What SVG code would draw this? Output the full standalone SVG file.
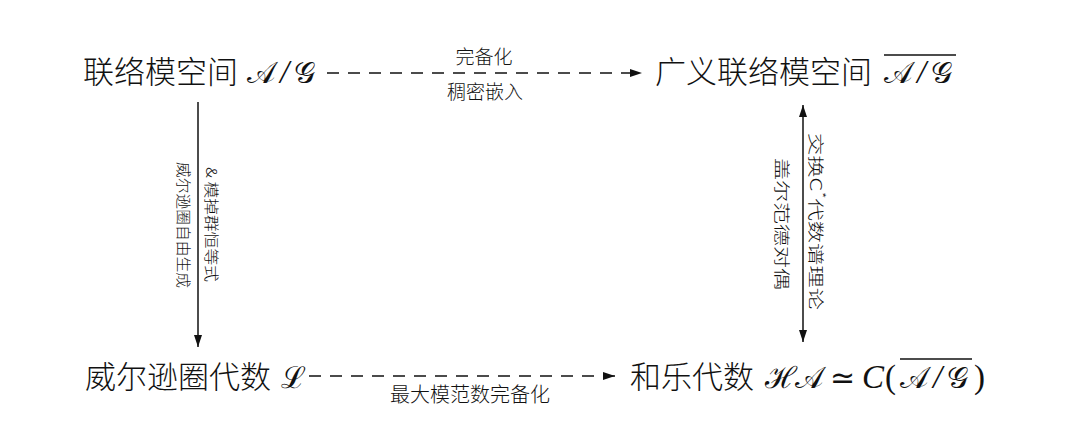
<svg xmlns="http://www.w3.org/2000/svg" width="1080" height="446" viewBox="0 0 1080 446">
<style>
.cjk{font-family:"Noto Sans CJK SC",sans-serif;fill:#111}
.big{font-size:31px;font-weight:300}
.lbl{font-size:19px;font-weight:300}
.rot{font-size:15px;font-weight:300}
.math{font-family:"DejaVu Serif","Liberation Serif",serif;font-size:30px;fill:#111}
.sl{font-family:"Liberation Serif",serif;font-style:italic;font-size:33px;fill:#111}
.up{font-family:"Liberation Serif",serif;font-size:33px;fill:#111}
.dash{stroke:#111;stroke-width:1.5;fill:none;stroke-dasharray:12 9}
.solid{stroke:#111;stroke-width:1.5;fill:none}
</style>
<defs>
<marker id="ah" viewBox="0 0 12 8" refX="12" refY="4" markerWidth="12" markerHeight="8" markerUnits="userSpaceOnUse" orient="auto-start-reverse">
<path d="M0,0 L12,4 L0,8 z" fill="#111"/>
</marker>
</defs>
<rect width="1080" height="446" fill="#fff"/>
<g id="connectors">
<line class="dash" x1="327" y1="73" x2="642" y2="73" marker-end="url(#ah)"/>
<line class="solid" x1="198" y1="102" x2="198" y2="347" marker-end="url(#ah)"/>
<line class="solid" x1="803" y1="105" x2="803" y2="342" marker-start="url(#ah)" marker-end="url(#ah)"/>
<line class="dash" x1="309" y1="376" x2="615" y2="376" marker-end="url(#ah)"/>
<text class="cjk lbl" x="484" y="64" text-anchor="middle">完备化</text>
<text class="cjk lbl" x="485" y="99" text-anchor="middle">稠密嵌入</text>
<text class="cjk lbl" x="470" y="402" text-anchor="middle" style="font-size:20px">最大模范数完备化</text>
<text class="cjk rot" transform="translate(212,224.5) rotate(90)" text-anchor="middle" dominant-baseline="central" textLength="115" lengthAdjust="spacingAndGlyphs">&amp; 模掉群恒等式</text>
<text class="cjk rot" transform="translate(184,225) rotate(90)" text-anchor="middle" dominant-baseline="central" textLength="126" lengthAdjust="spacingAndGlyphs">威尔逊圈自由生成</text>
<text class="cjk rot" style="font-size:16px" transform="translate(817,221.5) rotate(90)" text-anchor="middle" dominant-baseline="central" textLength="177" lengthAdjust="spacingAndGlyphs">交换C<tspan dy="-5" font-size="11">*</tspan><tspan dy="5">代数谱理论</tspan></text>
<text class="cjk rot" style="font-size:16px" transform="translate(783,224) rotate(90)" text-anchor="middle" dominant-baseline="central" textLength="132" lengthAdjust="spacingAndGlyphs">盖尔范德对偶</text>
</g>
<g id="node-connection-space">
<text class="cjk big" x="83" y="83">联络模空间</text>
<text class="math" x="247" y="83">𝒜</text>
<text class="sl" x="280" y="83">/</text>
<text class="math" x="294" y="83">𝒢</text>
</g>
<g id="node-generalized-space">
<text class="cjk big" x="655" y="83">广义联络模空间</text>
<text class="math" x="884" y="83">𝒜</text>
<text class="sl" x="917" y="83">/</text>
<text class="math" x="931" y="83">𝒢</text>
<line class="solid" x1="884" y1="55" x2="956" y2="55"/>
</g>
<g id="node-wilson-algebra">
<text class="cjk big" x="85" y="388">威尔逊圈代数</text>
<text class="math" x="281" y="388">ℒ</text>
</g>
<g id="node-holonomy-algebra">
<text class="cjk big" x="630" y="388">和乐代数</text>
<text class="math" x="765" y="388">ℋ</text>
<text class="math" x="795" y="388">𝒜</text>
<text class="up" x="830" y="388" style="font-family:'DejaVu Sans',sans-serif;font-size:30px">≃</text>
<text class="sl" x="862" y="388">C</text>
<text class="up" x="885" y="388">(</text>
<text class="math" x="900" y="388">𝒜</text>
<text class="sl" x="933" y="388">/</text>
<text class="math" x="947" y="388">𝒢</text>
<line class="solid" x1="900" y1="359" x2="972" y2="359"/>
<text class="up" x="974" y="388">)</text>
</g>
</svg>
